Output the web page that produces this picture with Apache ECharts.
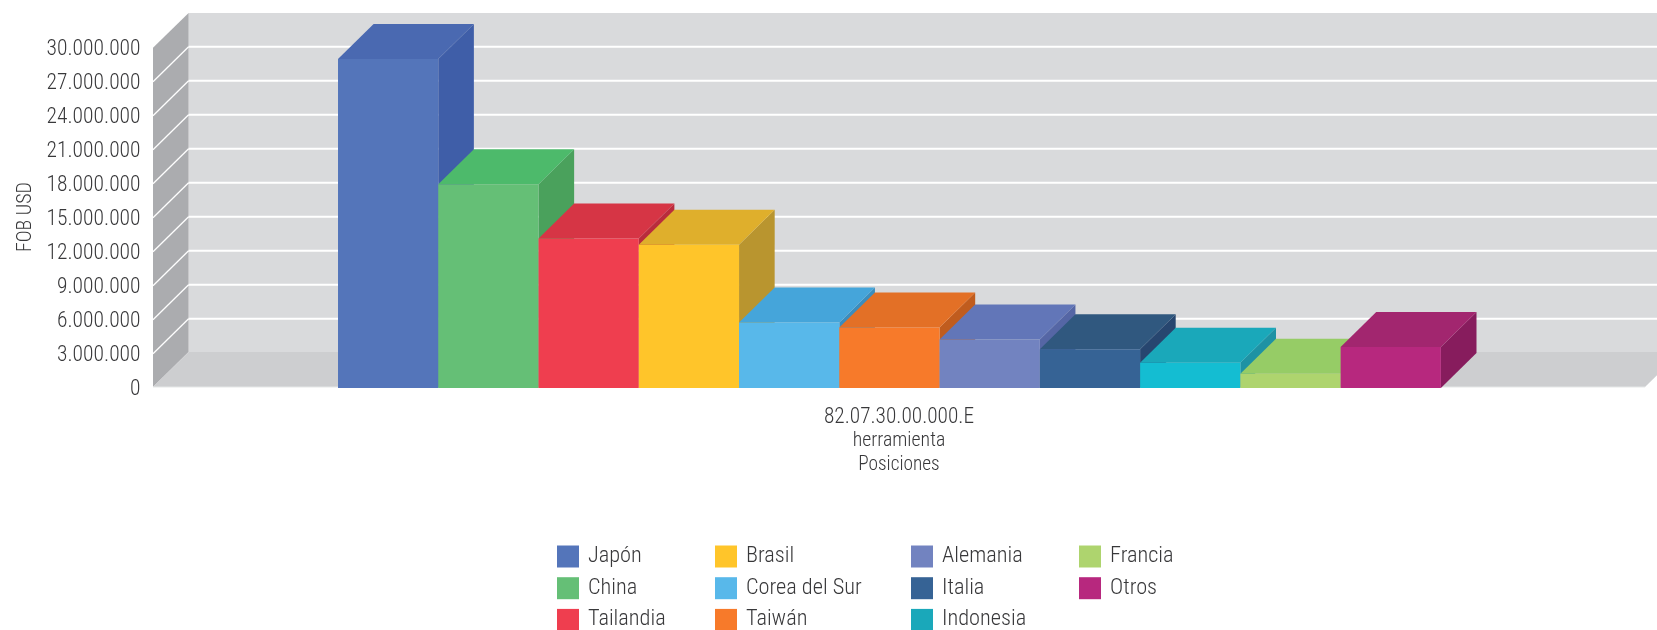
<!DOCTYPE html>
<html>
<head>
<meta charset="utf-8">
<style>html,body{margin:0;padding:0;background:#fff}#c{width:1657px;height:630px}</style>
<script src="https://cdn.jsdelivr.net/npm/echarts@6/dist/echarts.min.js"></script>
</head>
<body>
<div id="c"></div>
<script>
const categories = ['82.07.30.00.000.E\nherramienta'];
const paises = ['Japón','China','Tailandia','Brasil','Corea del Sur','Taiwán','Alemania','Italia','Indonesia','Francia','Otros'];
const valores = [28940000,17900000,13100000,12560000,5700000,5250000,4200000,3330000,2150000,1180000,3540000];
const yTicks = [3000000,6000000,9000000,12000000,15000000,18000000,21000000,24000000,27000000];
const frente = ['#5475BA','#65BF76','#EF3E4F','#FFC52A','#58B8EA','#F77A2A','#7283C0','#366395','#14BDD2','#AED46E','#B7287E'];
const arriba = ['#4A69B1','#4DBA6B','#D63545','#DFAF2C','#45A5DA','#E37026','#6276B8','#30587F','#1AA8BA','#96CC66','#A2266F'];
const lado   = ['#3F5EA8','#4AA15C','#B92C3C','#B9952F','#3A8DBE','#C05C1E','#5566A5','#27466F','#1E92A4','#7FB35A','#871C5D'];
const colLegend = [
  {names:['Japón','China','Tailandia'], left:557},
  {names:['Brasil','Corea del Sur','Taiwán'], left:715},
  {names:['Alemania','Italia','Indonesia'], left:911},
  {names:['Francia','Otros'], left:1079}
];

const FONT = '"Roboto Condensed",Roboto,sans-serif';
const TXT = '#38383a';
const DX = 35.6, DY = 35;
const BAR_FRAC = 0.0672, START_FRAC = 0.124;

function poly(points, color, z2){
  return {type:'polygon', shape:{points}, style:{fill:color}, z2:z2||0, silent:true};
}
function fondo(params, api){
  const cs = params.coordSys;
  const L = cs.x, R = cs.x + cs.width;
  const y0 = api.coord([0,0])[1], yT = api.coord([0,30000000])[1];
  const kids = [
    poly([[L+DX,yT-DY+1],[R+DX,yT-DY+1],[R+DX,y0-DY],[L+DX,y0-DY]],'#D9DADC'),
    poly([[L,yT+0.7],[L+DX,yT-DY+1],[L+DX,y0-DY],[L,y0]],'#ABACAF'),
    poly([[L,y0],[L+DX,y0-DY],[R+DX,y0-DY],[R,y0]],'#CDCED0'),
    {type:'line',shape:{x1:L,y1:y0,x2:R,y2:y0},style:{stroke:'#E6E7E8',lineWidth:1.2},silent:true}
  ];
  yTicks.forEach(v=>{
    const y = api.coord([0,v])[1] + 0.7;
    kids.push({type:'line',shape:{x1:L+DX,y1:y-DY,x2:R+DX,y2:y-DY},style:{stroke:'#fff',lineWidth:2},silent:true});
    kids.push({type:'line',shape:{x1:L,y1:y,x2:L+DX,y2:y-DY},style:{stroke:'#fff',lineWidth:1.3},silent:true});
  });
  return {type:'group',children:kids};
}
function barra(i){
  return function(params, api){
    const cs = params.coordSys;
    const w = cs.width * BAR_FRAC;
    const x0 = cs.x + cs.width * START_FRAC + i * w;
    const x1 = x0 + w;
    const yTop = api.coord([0, api.value(1)])[1];
    const yBot = api.coord([0, 0])[1] + 1;
    return {type:'group',children:[
      poly([[x1,yTop],[x1+DX,yTop-DY],[x1+DX,yBot-DY],[x1,yBot]],lado[i]),
      poly([[x0,yTop],[x0+DX,yTop-DY],[x1+DX,yTop-DY],[x1,yTop]],arriba[i]),
      poly([[x0,yTop],[x1,yTop],[x1,yBot],[x0,yBot]],frente[i])
    ]};
  };
}

const series = [{
  type:'custom', name:'fondo', renderItem:fondo, data:[[0,0]], silent:true, clip:false, z:1
}].concat(paises.map((p,i)=>({
  type:'custom', name:p, renderItem:barra(i), data:[[0,valores[i]]],
  itemStyle:{color:frente[i]}, encode:{x:0,y:1}, clip:false, z:2+i
})));

const legend = colLegend.map(c=>({
  show:true, orient:'vertical', left:c.left, top:545.5, width:300, height:300, padding:0,
  itemWidth:22, itemHeight:22, itemGap:9.7, icon:'rect',
  selectedMode:false,
  data:c.names.map(n=>{
    const i = paises.indexOf(n);
    return {name:n, itemStyle:{color: n==='Indonesia' ? arriba[i] : frente[i]}};
  }),
  textStyle:{fontFamily:FONT,fontSize:22.3,fontWeight:300,color:TXT,padding:[3,0,0,4]}
}));

const chart = echarts.init(document.getElementById('c'),null,{renderer:'canvas'});
chart.setOption({
  animation:false,
  backgroundColor:'#fff',
  grid:{left:153,right:12,top:47,bottom:243,containLabel:false},
  legend,
  xAxis:{
    type:'category', data:categories,
    axisLine:{show:false}, axisTick:{show:false},
    axisLabel:{margin:19.5,
      formatter:v=>{const p=v.split('\n');return '{a|'+p[0]+'}\n{b|'+p[1]+'}';},
      rich:{
        a:{fontFamily:FONT,fontSize:21.3,fontWeight:300,color:TXT,lineHeight:23},
        b:{fontFamily:FONT,fontSize:19.8,fontWeight:300,color:TXT,lineHeight:23}
      }},
    name:'Posiciones', nameLocation:'middle', nameGap:68,
    nameTextStyle:{fontFamily:FONT,fontSize:19.3,fontWeight:300,color:TXT}
  },
  yAxis:{
    type:'value', min:0, max:30000000, interval:3000000,
    axisLine:{show:false}, axisTick:{show:false}, splitLine:{show:false},
    axisLabel:{fontFamily:FONT,fontSize:21.5,fontWeight:300,color:TXT,margin:12.5,verticalAlign:'top',lineHeight:6,
      formatter:v=>String(v).replace(/\B(?=(\d{3})+(?!\d))/g,'.')},
    name:'FOB USD', nameLocation:'middle', nameGap:117, nameRotate:90,
    nameTextStyle:{fontFamily:FONT,fontSize:20,fontWeight:300,color:TXT}
  },
  series
});
</script>
</body>
</html>
